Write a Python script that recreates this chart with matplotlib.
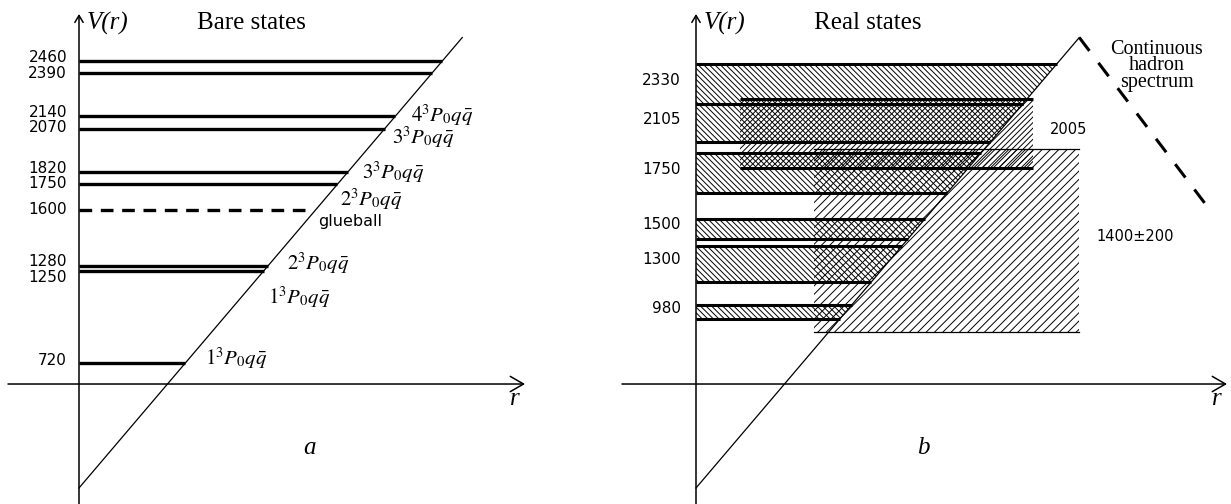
import matplotlib
matplotlib.use('Agg')
import matplotlib.pyplot as plt
from matplotlib.patches import Polygon, Rectangle

# ---- data (MeV) ----
# panel a: bare states
QQ_LEVELS = [720, 1250, 1280, 1750, 1820, 2070, 2140, 2390, 2460]
GLUEBALL_LEVEL = 1600
BARE_TICKS = [720, 1250, 1280, 1600, 1750, 1820, 2070, 2140, 2390, 2460]

STATE_LEVELS = [720, 1250, 1280, 1600, 1750, 1820, 2070, 2140]
STATE_TEXTS = [r'$1^3P_0q\bar{q}$', r'$1^3P_0q\bar{q}$', r'$2^3P_0q\bar{q}$',
               'glueball', r'$2^3P_0q\bar{q}$', r'$3^3P_0q\bar{q}$',
               r'$3^3P_0q\bar{q}$', r'$4^3P_0q\bar{q}$']

# panel b: real (resonance) states drawn as bands
BAND_MASSES = [980, 1300, 1500, 1750, 2105, 2330]
BAND_LO = [973, 1187, 1434, 1699, 1993, 2212]
BAND_HI = [1054, 1394, 1550, 1930, 2212, 2442]

BROAD_LABELS = ['2005', '1400\u00b1200']
BROAD_LO = [1843, 899]
BROAD_HI = [2241, 1953]

# ---- layout ----
PX_V = 0.1736      # pixels per MeV
PX_R = 0.1477      # pixels per r unit (potential V = r)
PT = 72 / 100.0    # px -> points
V_TOP = 2595       # top of the linear potential
V_AXIS = 599       # height of the r axis

plt.rcParams['mathtext.fontset'] = 'stix'
plt.rcParams['hatch.linewidth'] = 0.7
SERIF = 'Liberation Serif'
SANS = 'DejaVu Sans'

fig = plt.figure(figsize=(12.31, 5.04), dpi=100)


def make_axes(left_px):
    ax = fig.add_axes([left_px / 1231, 0, 614 / 1231, 1])
    ax.set_xlim(-79 / PX_R, 535 / PX_R)
    ax.set_ylim(-16 / PX_V, 488 / PX_V)
    ax.axis('off')
    return ax


def draw_axes(ax, x_start, x_end, r_label_x, title, letter, letter_x):
    # vertical axis with small open head
    ax.annotate('', xy=(0, 474 / PX_V), xytext=(0, -16 / PX_V),
                arrowprops=dict(arrowstyle='->,head_length=0.5,head_width=0.3',
                                lw=1.1, color='k', shrinkA=0, shrinkB=0,
                                mutation_scale=10))
    # horizontal axis
    ax.annotate('', xy=(x_end, V_AXIS), xytext=(x_start, V_AXIS),
                arrowprops=dict(arrowstyle='->,head_length=0.95,head_width=0.55',
                                lw=1.1, color='k', shrinkA=0, shrinkB=0,
                                mutation_scale=10))
    ax.text(r_label_x, V_AXIS - 15 / PX_V, 'r', family=SERIF, style='italic',
            fontsize=18, ha='center', va='center')
    ax.text(8 / PX_R, 465 / PX_V, 'V(r)', family=SERIF, style='italic',
            fontsize=18, ha='left', va='center')
    ax.text(800, 465 / PX_V, title, family=SERIF, fontsize=18,
            ha='left', va='center')
    ax.text(letter_x, 40 / PX_V, letter, family=SERIF, style='italic',
            fontsize=18, ha='center', va='center')


def tick_label(ax, text, v, right_px, nudge_px=0):
    ax.annotate(text, xy=(0, v), xytext=(right_px * PT, nudge_px * PT),
                textcoords='offset points', ha='right', va='center',
                family=SANS, fontsize=11)


# ---------------- panel a ----------------
ax = make_axes(0)
draw_axes(ax, -71 / PX_R, 446 / PX_R, 436 / PX_R, 'Bare states', 'a', 230 / PX_R)
ax.plot([0, V_TOP], [0, V_TOP], color='k', lw=0.9)

for v in QQ_LEVELS:
    ax.plot([0, v], [v, v], color='k', lw=2.4, solid_capstyle='butt')
ax.plot([0, GLUEBALL_LEVEL - 35], [GLUEBALL_LEVEL] * 2, color='k', lw=2.4,
        linestyle=(0, (3.8, 2.6)), dash_capstyle='butt')

tick_nudge = [3, -6, 4, 1, 1, 4, 1, 4, 0, 3]
for v, dy in zip(BARE_TICKS, tick_nudge):
    tick_label(ax, str(v), v, -12, dy)

state_nudge = [(20, 5), (4, -26), (19, 2), (3, -11), (3, -15), (14, 0), (7, -9), (16, 1)]
for v, txt, (dx, dy) in zip(STATE_LEVELS, STATE_TEXTS, state_nudge):
    if txt == 'glueball':
        ax.annotate(txt, xy=(v, v), xytext=(dx * PT, dy * PT),
                    textcoords='offset points', ha='left', va='center',
                    family=SANS, fontsize=11.5)
    else:
        ax.annotate(txt, xy=(v, v), xytext=(dx * PT, dy * PT),
                    textcoords='offset points', ha='left', va='center',
                    fontsize=15)

# ---------------- panel b ----------------
bx = make_axes(617)
draw_axes(bx, -74 / PX_R, 531 / PX_R, 521 / PX_R, 'Real states', 'b', 227 / PX_R)

# broad states: rectangles hatched the other way
broad_r0 = [298, 799]
broad_r1 = [2282, V_TOP]
broad_hatch = ['/' * 6, '/' * 4]
for lo, hi, r0, r1, h in zip(BROAD_LO, BROAD_HI, broad_r0, broad_r1, broad_hatch):
    bx.add_patch(Rectangle((r0, lo), r1 - r0, hi - lo, facecolor='none',
                           edgecolor='k', lw=0, hatch=h, zorder=1))
# 2005: thick edges, 1400: thin edges
bx.plot([broad_r0[0], broad_r1[0]], [BROAD_LO[0]] * 2, color='k', lw=2.2,
        solid_capstyle='butt', zorder=3)
bx.plot([broad_r0[0], broad_r1[0]], [BROAD_HI[0]] * 2, color='k', lw=2.2,
        solid_capstyle='butt', zorder=3)
bx.plot([broad_r0[1], broad_r1[1]], [BROAD_LO[1]] * 2, color='k', lw=0.9, zorder=3)
bx.plot([broad_r0[1], broad_r1[1]], [BROAD_HI[1]] * 2, color='k', lw=0.9, zorder=3)

# narrow-ish bands cut by the potential
for lo, hi in zip(BAND_LO, BAND_HI):
    bx.add_patch(Polygon([(0, lo), (lo, lo), (hi, hi), (0, hi)], closed=True,
                         facecolor='none', edgecolor='k', lw=0,
                         hatch='\\' * 6, zorder=1))
    for v in (lo, hi):
        bx.plot([0, v], [v, v], color='k', lw=2.2, solid_capstyle='butt', zorder=3)

for m, lo, hi in zip(BAND_MASSES, BAND_LO, BAND_HI):
    tick_label(bx, str(m), (lo + hi) / 2, -15, 4)

for txt, lo, hi, r1 in zip(BROAD_LABELS, BROAD_LO, BROAD_HI, broad_r1):
    bx.annotate(txt, xy=(r1, (lo + hi) / 2), xytext=(17 * PT, 4 * PT),
                textcoords='offset points', ha='left', va='center',
                family=SANS, fontsize=10.5)

# potential and the continuum
bx.plot([0, V_TOP], [0, V_TOP], color='k', lw=0.9, zorder=4)
bx.plot([V_TOP, 3480], [V_TOP, 1601], color='k', lw=2.2,
        linestyle=(0, (5.5, 4.9)), dash_capstyle='butt', zorder=4)
bx.text(3121, 2431, 'Continuous\nhadron\nspectrum', family=SERIF, fontsize=14.5,
        ha='center', va='center', linespacing=0.85)

fig.savefig('out.png', dpi=100)
